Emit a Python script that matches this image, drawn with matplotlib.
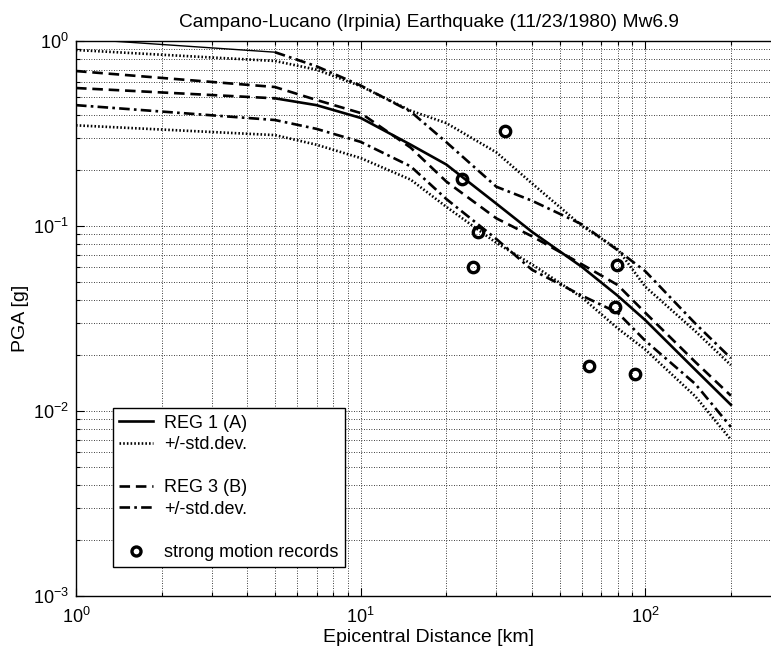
import matplotlib
matplotlib.use("Agg")
import matplotlib.pyplot as plt
from matplotlib.lines import Line2D
from matplotlib.ticker import LogLocator, NullFormatter

plt.rcParams['font.family'] = ['Liberation Sans', 'DejaVu Sans']
plt.rcParams['mathtext.fontset'] = 'custom'
plt.rcParams['mathtext.rm'] = 'Liberation Sans'
plt.rcParams['mathtext.it'] = 'Liberation Sans:italic'
plt.rcParams['mathtext.bf'] = 'Liberation Sans:bold'

# Attenuation relations: PGA [g] versus epicentral distance [km]
distance_km = [1, 5, 7, 10, 15, 20, 30, 40, 60, 80, 100, 150, 200]

reg1_mean = [0.557, 0.49, 0.45, 0.384, 0.275, 0.215, 0.132, 0.093, 0.060, 0.042, 0.031, 0.0167, 0.0108]
reg1_plus = [0.894, 0.78, 0.70, 0.57, 0.42, 0.36, 0.25, 0.17, 0.10, 0.075, 0.047, 0.027, 0.0177]
reg1_minus = [0.35, 0.31, 0.275, 0.233, 0.178, 0.127, 0.081, 0.062, 0.041, 0.028, 0.0215, 0.012, 0.0070]

reg3_mean = [0.688, 0.564, 0.48, 0.408, 0.265, 0.174, 0.11, 0.088, 0.062, 0.048, 0.034, 0.0184, 0.0121]
reg3_plus = [1.03, 0.87, 0.73, 0.575, 0.415, 0.284, 0.163, 0.137, 0.102, 0.074, 0.057, 0.0297, 0.0193]
reg3_minus = [0.45, 0.374, 0.335, 0.285, 0.21, 0.14, 0.085, 0.058, 0.042, 0.034, 0.024, 0.014, 0.0082]

# Recorded peak accelerations
records_km = [22.7, 32.2, 25.9, 24.9, 79.8, 78.5, 63.6, 92.2]
records_pga = [0.18, 0.326, 0.093, 0.060, 0.0615, 0.0365, 0.0175, 0.0158]

near_end = 2  # curves are extrapolated below 5 km

fig = plt.figure(figsize=(7.71, 6.52), dpi=100)
ax = fig.add_axes([76 / 771, 56 / 652, 705 / 771, 555 / 652])

lw = 1.9
dashed = (0, (4, 2.2))
dashdot = (0, (4, 1.6, 1, 1.6))
dotted = (0, (0.6, 0.8))

# REG 1 (A)
ax.plot(distance_km[:near_end], reg1_mean[:near_end], color='k', lw=lw, linestyle=dashed)
ax.plot(distance_km[near_end - 1:], reg1_mean[near_end - 1:], color='k', lw=lw, linestyle='-')
ax.plot(distance_km, reg1_plus, color='k', lw=lw, linestyle=dotted)
ax.plot(distance_km, reg1_minus, color='k', lw=lw, linestyle=dotted)

# REG 3 (B)
ax.plot(distance_km, reg3_mean, color='k', lw=lw, linestyle=dashed)
ax.plot(distance_km[:near_end], reg3_plus[:near_end], color='k', lw=1.0, linestyle='-')
ax.plot(distance_km[near_end - 1:], reg3_plus[near_end - 1:], color='k', lw=lw, linestyle=dashdot)
ax.plot(distance_km, reg3_minus, color='k', lw=lw, linestyle=dashdot)

# strong motion records
ax.plot(records_km, records_pga, linestyle='none', marker='o', markersize=7.5,
        markerfacecolor='none', markeredgecolor='k', markeredgewidth=2.4)

ax.set_xscale('log')
ax.set_yscale('log')
ax.set_xlim(1, 300)
ax.set_ylim(1e-3, 1)

ax.xaxis.set_minor_locator(LogLocator(base=10, subs=range(2, 10)))
ax.yaxis.set_minor_locator(LogLocator(base=10, subs=range(2, 10)))
ax.xaxis.set_minor_formatter(NullFormatter())
ax.yaxis.set_minor_formatter(NullFormatter())

ax.grid(True, which='both', color='k', linestyle=(0, (1, 2)), linewidth=0.6)
ax.tick_params(which='both', direction='in', top=True, right=True, labelsize=13, width=0.8)
ax.tick_params(which='major', length=6)
ax.tick_params(which='minor', length=3)
ax.tick_params(axis='x', which='major', pad=8)
ax.tick_params(axis='y', which='major', pad=5)
for sp in ax.spines.values():
    sp.set_linewidth(1.0)

ax.set_title('Campano-Lucano (Irpinia) Earthquake (11/23/1980) Mw6.9', fontsize=13.8, pad=10)
ax.set_xlabel('Epicentral Distance [km]', fontsize=14, labelpad=1)
ax.set_ylabel('PGA [g]', fontsize=14, labelpad=3)

blank = Line2D([], [], linestyle='none')
handles = [
    Line2D([], [], color='k', lw=lw, linestyle='-'),
    Line2D([], [], color='k', lw=lw, linestyle=dotted),
    blank,
    Line2D([], [], color='k', lw=lw, linestyle=dashed),
    Line2D([], [], color='k', lw=lw, linestyle=dashdot),
    blank,
    Line2D([], [], linestyle='none', marker='o', markersize=6.5, markerfacecolor='none',
           markeredgecolor='k', markeredgewidth=2.4),
]
labels = ['REG 1 (A)', '+/-std.dev.', ' ', 'REG 3 (B)', '+/-std.dev.', ' ', 'strong motion records']
leg = ax.legend(handles, labels, loc='lower left', bbox_to_anchor=(0.052, 0.052),
                fontsize=13, frameon=True, fancybox=False, framealpha=1,
                edgecolor='k', handlelength=1.9, handletextpad=0.6,
                labelspacing=0.25, borderpad=0.35, borderaxespad=0)
leg.get_frame().set_linewidth(1.0)

fig.savefig('out.png', dpi=100)
